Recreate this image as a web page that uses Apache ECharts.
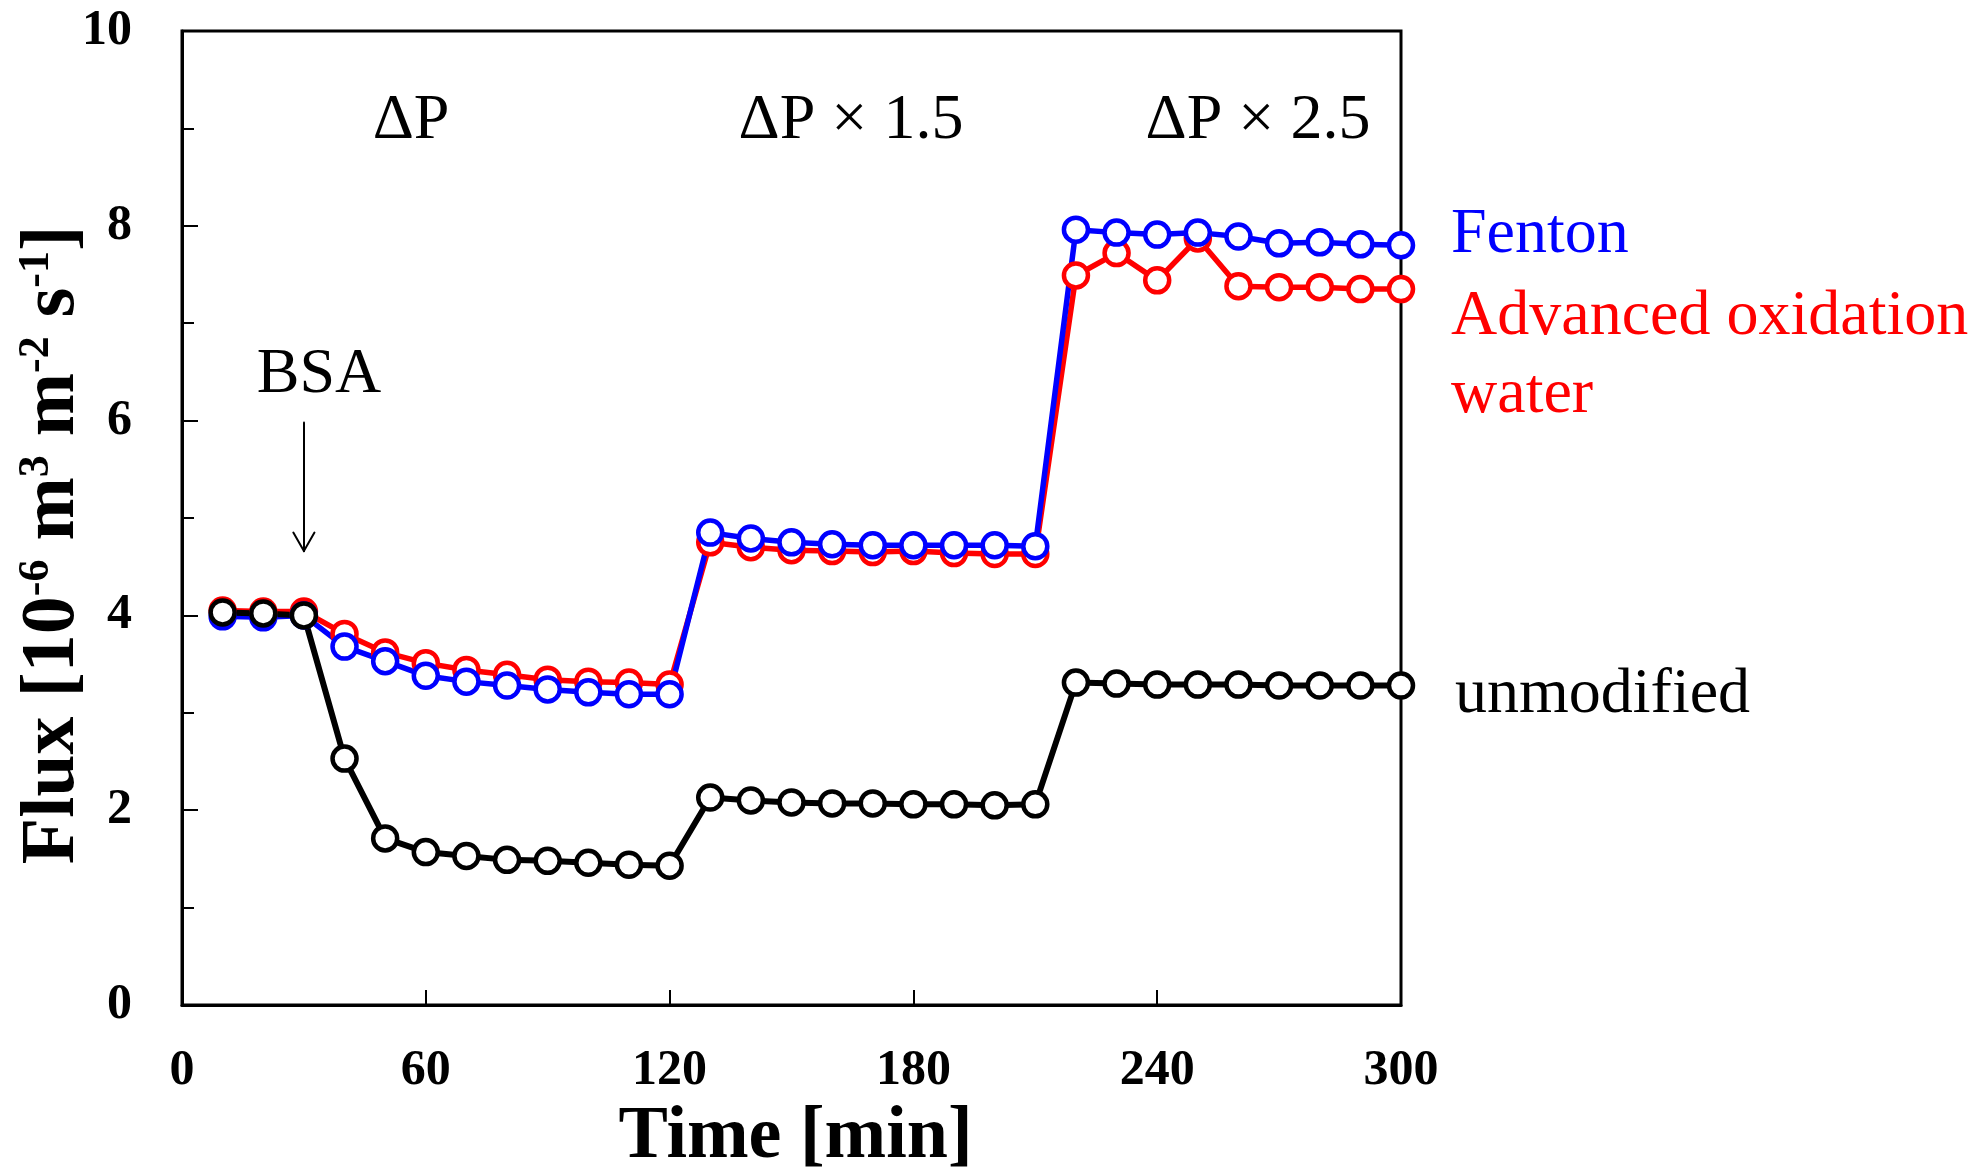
<!DOCTYPE html>
<html>
<head>
<meta charset="utf-8">
<script src="https://cdn.jsdelivr.net/npm/echarts@6/dist/echarts.min.js"></script>
<style>
html,body{margin:0;padding:0;background:#fff;}
#chart{width:1970px;height:1173px;}
</style>
</head>
<body>
<div id="chart"></div>
<script>
// ---- data ----
const times = [10,20,30,40,50,60,70,80,90,100,110,120,130,140,150,160,170,180,190,200,210,220,230,240,250,260,270,280,290,300];
const fenton = [3.99,3.98,4.00,3.68,3.53,3.38,3.32,3.28,3.24,3.21,3.19,3.19,4.85,4.79,4.75,4.73,4.72,4.72,4.72,4.72,4.71,7.96,7.93,7.91,7.93,7.89,7.82,7.83,7.81,7.80];
const advOx = [4.05,4.04,4.04,3.81,3.62,3.51,3.44,3.39,3.34,3.32,3.31,3.29,4.75,4.70,4.67,4.66,4.65,4.66,4.64,4.63,4.63,7.49,7.72,7.44,7.87,7.38,7.37,7.37,7.35,7.35];
const unmodified = [4.03,4.02,4.00,2.53,1.71,1.57,1.53,1.49,1.48,1.46,1.44,1.43,2.13,2.10,2.08,2.07,2.07,2.06,2.06,2.05,2.06,3.31,3.30,3.29,3.29,3.29,3.28,3.28,3.28,3.28];
const xTicks = [0,60,120,180,240,300];
const yTicks = [0,2,4,6,8,10];
// BSA injection arrow (data coordinates)
const bsaTime = 30;
const bsaFrom = 5.98;
const bsaTip = 4.66;
const headDt = 2.6;   // half-width of arrow head, minutes
const headDv = 0.19;  // length of arrow head, flux units

const FONT = '"Liberation Serif","Times New Roman",serif';
const pair = (vals) => times.map((t, i) => [t, vals[i]]);

function lineSeries(name, vals, color, width) {
  return {
    name: name,
    type: 'line',
    data: pair(vals),
    symbol: 'circle',
    symbolSize: 24,
    lineStyle: { color: color, width: width },
    itemStyle: { color: '#fff', borderColor: color, borderWidth: 4.5 },
    emphasis: { disabled: true },
    clip: false,
    animation: false
  };
}

const chart = echarts.init(document.getElementById('chart'), null, { renderer: 'canvas' });

const red = lineSeries('Advanced oxidation water', advOx, '#ff0000', 5.5);
const blue = lineSeries('Fenton', fenton, '#0000ff', 5.5);
const black = lineSeries('unmodified', unmodified, '#000000', 6);
black.markLine = {
  silent: true,
  animation: false,
  symbol: ['none', 'none'],
  label: { show: false },
  lineStyle: { color: '#000', width: 2, type: 'solid', cap: 'round' },
  data: [
    [{ coord: [bsaTime, bsaFrom] }, { coord: [bsaTime, bsaTip] }],
    [{ coord: [bsaTime - headDt, bsaTip + headDv] }, { coord: [bsaTime, bsaTip] }],
    [{ coord: [bsaTime + headDt, bsaTip + headDv] }, { coord: [bsaTime, bsaTip] }]
  ]
};

const option = {
  backgroundColor: '#fff',
  animation: false,
  grid: {
    left: 182, right: 569, top: 31, bottom: 168,
    containLabel: false,
    outerBoundsMode: 'none',
    show: true, borderColor: '#000', borderWidth: 3, backgroundColor: 'transparent'
  },
  xAxis: {
    type: 'value', min: 0, max: 300, interval: 60,
    name: 'Time [min]',
    nameLocation: 'middle',
    nameGap: 96,
    nameTextStyle: { fontFamily: FONT, fontWeight: 'bold', fontSize: 74, color: '#000', padding: [0, 0, 0, 8] },
    axisLine: { show: true, lineStyle: { color: '#000', width: 3 } },
    axisTick: { show: true, inside: true, length: 15, lineStyle: { color: '#000', width: 2 } },
    axisLabel: {
      margin: 41, fontFamily: FONT, fontWeight: 'bold', fontSize: 50, color: '#000',
      formatter: (v) => xTicks.includes(v) ? String(v) : ''
    },
    splitLine: { show: false }
  },
  yAxis: {
    type: 'value', min: 0, max: 10, interval: 2,
    name: '{b|Flux [10}{s|-6}{b| m}{s|3}{b| m}{s|-2}{b| s}{s|-1}{b|]}',
    nameLocation: 'middle',
    nameGap: 91,
    nameMoveOverlap: false,
    nameTextStyle: {
      padding: [0, 54, 0, 0],
      rich: {
        b: { fontFamily: FONT, fontWeight: 'bold', fontSize: 76, lineHeight: 76, color: '#000', verticalAlign: 'bottom' },
        s: { fontFamily: FONT, fontWeight: 'bold', fontSize: 44, lineHeight: 44, color: '#000', verticalAlign: 'top' }
      }
    },
    axisLine: { show: true, lineStyle: { color: '#000', width: 3 } },
    axisTick: { show: true, inside: true, length: 16, lineStyle: { color: '#000', width: 2 } },
    minorTick: { show: true, splitNumber: 2, length: 12, lineStyle: { color: '#000', width: 2 } },
    axisLabel: {
      margin: 50, fontFamily: FONT, fontWeight: 'bold', fontSize: 50, color: '#000',
      formatter: (v) => yTicks.includes(v) ? String(v) : ''
    },
    splitLine: { show: false },
    minorSplitLine: { show: false }
  },
  graphic: [
    { type: 'text', x: 411, y: 121, style: { text: 'ΔP', font: '64px ' + FONT, fill: '#000', textAlign: 'center', textVerticalAlign: 'middle' } },
    { type: 'text', x: 851, y: 121, style: { text: 'ΔP × 1.5', font: '64px ' + FONT, fill: '#000', textAlign: 'center', textVerticalAlign: 'middle' } },
    { type: 'text', x: 1258, y: 121, style: { text: 'ΔP × 2.5', font: '64px ' + FONT, fill: '#000', textAlign: 'center', textVerticalAlign: 'middle' } },
    { type: 'text', x: 319, y: 375, style: { text: 'BSA', font: '64px ' + FONT, fill: '#000', textAlign: 'center', textVerticalAlign: 'middle' } },
    { type: 'text', x: 1451, y: 235, style: { text: 'Fenton', font: '64px ' + FONT, fill: '#0000ff', textAlign: 'left', textVerticalAlign: 'middle' } },
    { type: 'text', x: 1451, y: 317, style: { text: 'Advanced oxidation', font: '64px ' + FONT, fill: '#ff0000', textAlign: 'left', textVerticalAlign: 'middle' } },
    { type: 'text', x: 1451, y: 395, style: { text: 'water', font: '64px ' + FONT, fill: '#ff0000', textAlign: 'left', textVerticalAlign: 'middle' } },
    { type: 'text', x: 1455, y: 695, style: { text: 'unmodified', font: '64px ' + FONT, fill: '#000', textAlign: 'left', textVerticalAlign: 'middle' } }
  ],
  series: [red, blue, black]
};

chart.setOption(option);
</script>
</body>
</html>
